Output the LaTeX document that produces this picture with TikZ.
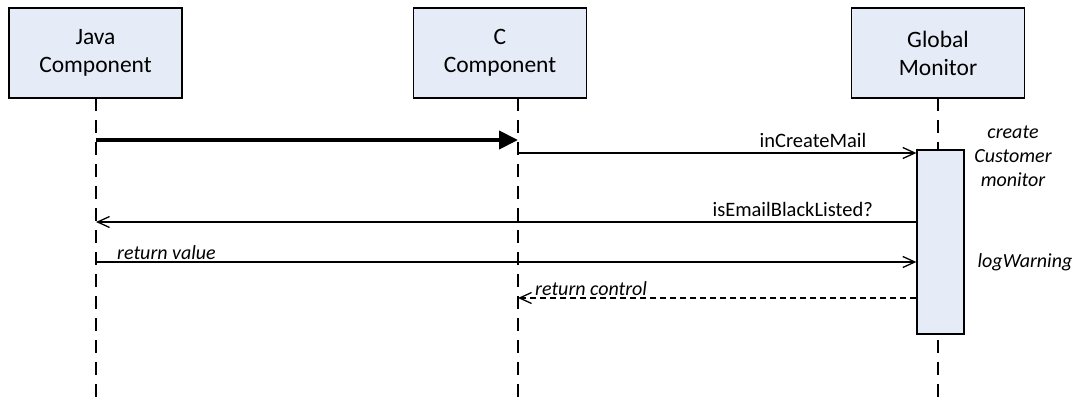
\documentclass[tikz,border=0pt]{standalone}
\usepackage{fontspec}
\setmainfont{Carlito}
\usetikzlibrary{arrows.meta}
\definecolor{boxfill}{RGB}{230,236,247}
\begin{document}
\begin{tikzpicture}[x=1pt,y=-1pt,
  actor/.style={draw=black,line width=1.3pt,fill=boxfill,minimum width=173pt,minimum height=90pt,align=center,font=\fontsize{23.5}{28}\selectfont,inner sep=0pt},
  lifeline/.style={line width=1.8pt,dash pattern=on 13pt off 9pt},
  msg/.style={line width=1.3pt,-{Straight Barb[length=12pt,width=11pt,line width=1.3pt]}},
  ret/.style={msg,dash pattern=on 6pt off 4pt},
  lbl/.style={font=\fontsize{20.5}{24}\selectfont,inner sep=0pt},
  ilbl/.style={lbl,font=\fontsize{20}{24}\itshape\selectfont,align=center}]
\useasboundingbox (0,0) rectangle (1075,406);
% actors
\node[actor] (java) at (95.5,53) {Java\\Component};
\node[actor] (cc) at (500,53) {C\\Component};
\node[actor] (gm) at (938,53) {Global\\Monitor};
% lifeline coordinates
\coordinate (jtop) at (96,98);
\coordinate (jbot) at (96,406);
\coordinate (ctop) at (518,98);
\coordinate (cbot) at (518,406);
\coordinate (gtop) at (938,98);
\coordinate (gbot) at (938,406);
\draw[lifeline] (jtop) -- (jbot);
\draw[lifeline] (ctop) -- (cbot);
\draw[lifeline] (gtop) -- (gbot);
% activation
\node[draw=black,line width=1.3pt,fill=boxfill,minimum width=47pt,minimum height=184pt,inner sep=0pt] (act) at (940.5,242) {};
% messages
\coordinate (m1s) at (96,140);
\coordinate (m1e) at (518,140);
\draw[line width=4pt,-{Triangle[length=19pt,width=18pt]}] (m1s) -- (m1e);
\coordinate (m2s) at (518,153);
\coordinate (m2e) at (act.west |- m2s);
\draw[msg] (m2s) -- (m2e);
\node[lbl] (l2) at (813,140) {inCreateMail};
\coordinate (m3s) at (act.west |- 0,222);
\coordinate (m3e) at (96,222);
\draw[msg] (m3s) -- (m3e);
\node[lbl,anchor=east] (l3) at (873,209) {isEmailBlackListed?};
\coordinate (m4s) at (96,262);
\coordinate (m4e) at (act.west |- m4s);
\draw[msg] (m4s) -- (m4e);
\node[ilbl,anchor=west] (l4) at (117,253) {return value};
\coordinate (m5s) at (act.west |- 0,298);
\coordinate (m5e) at (518,298);
\draw[ret] (m5s) -- (m5e);
\node[ilbl,anchor=west] (l5) at (535,289) {return control};
% notes
\node[ilbl] (n1) at (1013,156) {create\\Customer\\monitor};
\node[ilbl] (n2) at (1025,262) {logWarning};
\end{tikzpicture}
\end{document}
